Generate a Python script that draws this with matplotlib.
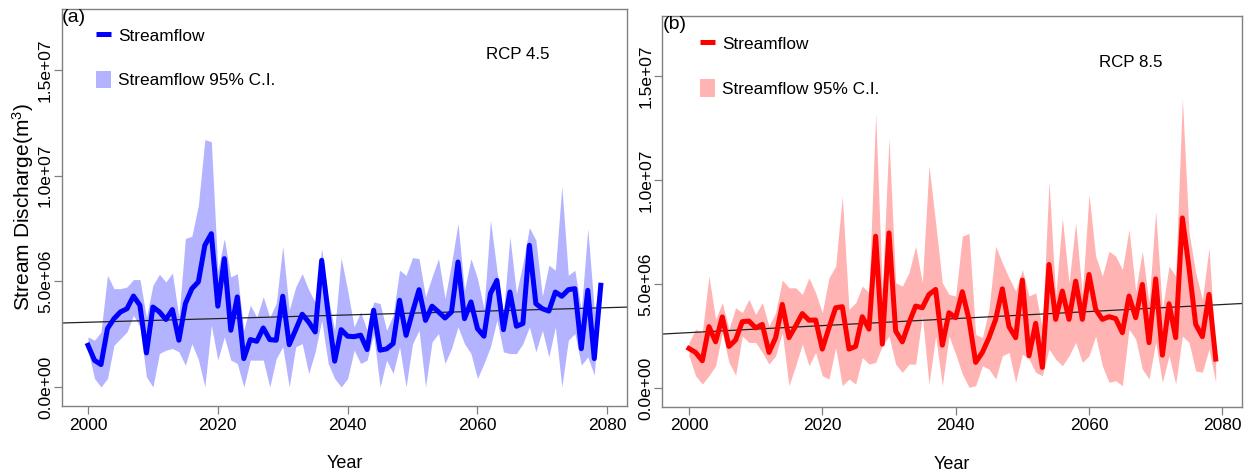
import numpy as np
import matplotlib
matplotlib.use('Agg')
import matplotlib.pyplot as plt
from matplotlib.lines import Line2D
from matplotlib.patches import Patch

plt.rcParams['font.family'] = ['Liberation Sans', 'DejaVu Sans']
plt.rcParams['mathtext.fontset'] = 'custom'
plt.rcParams['mathtext.rm'] = 'Liberation Sans'
plt.rcParams['mathtext.it'] = 'Liberation Sans:italic'

years = list(range(2000, 2080))

# RCP 4.5 streamflow (x 1e6 m3)
rcp45_flow = [1.97, 1.26, 1.06, 2.76, 3.23, 3.55, 3.70, 4.30, 3.86, 1.61,
              3.78, 3.55, 3.19, 3.66, 2.21, 3.94, 4.65, 4.97, 6.70, 7.25,
              3.82, 6.07, 2.68, 4.26, 1.34, 2.24, 2.16, 2.79, 2.24, 2.21,
              4.29, 2.00, 2.71, 3.44, 3.07, 2.60, 5.99, 3.47, 1.22, 2.71,
              2.40, 2.38, 2.45, 1.77, 3.63, 1.74, 1.80, 2.05, 4.10, 2.44,
              3.55, 4.60, 3.15, 3.82, 3.55, 3.26, 3.55, 5.91, 3.23, 4.02,
              2.76, 2.40, 4.42, 5.04, 2.71, 4.49, 2.87, 3.00, 6.70, 3.94,
              3.70, 3.59, 4.49, 4.29, 4.60, 4.65, 1.81, 4.57, 1.34, 4.81]
rcp45_upper = [2.37, 2.21, 2.60, 5.28, 4.65, 4.65, 4.73, 5.08, 5.08, 3.30,
               4.81, 5.33, 4.97, 5.39, 3.30, 7.02, 7.13, 8.59, 11.70, 11.60,
               5.50, 7.02, 5.20, 5.36, 2.68, 3.87, 3.30, 4.26, 3.30, 3.95,
               6.66, 3.63, 4.73, 5.36, 4.60, 4.00, 6.55, 4.26, 2.68, 6.10,
               4.57, 2.84, 3.55, 2.68, 4.02, 3.95, 2.68, 3.39, 5.52, 5.28,
               6.12, 6.07, 4.26, 5.21, 6.07, 4.18, 5.84, 7.73, 4.57, 6.07,
               5.13, 3.71, 7.89, 5.52, 3.47, 7.10, 4.42, 5.84, 7.54, 6.94,
               4.30, 5.76, 5.52, 9.49, 5.28, 5.52, 3.63, 7.49, 3.63, 4.90]
rcp45_lower = [1.74, 0.40, 0.00, 0.40, 1.97, 2.29, 2.60, 3.39, 2.84, 0.48,
               0.00, 1.58, 1.74, 1.82, 1.66, 1.03, 2.05, 1.30, 0.00, 2.92,
               1.27, 2.37, 1.27, 1.11, 0.00, 1.27, 1.27, 1.27, 0.00, 1.34,
               1.90, 0.00, 1.90, 2.05, 0.64, 1.66, 3.16, 1.11, 0.40, 0.00,
               0.40, 1.74, 1.11, 1.27, 2.50, 0.00, 1.27, 0.64, 1.90, 0.00,
               2.05, 2.68, 0.00, 2.13, 2.53, 1.11, 1.82, 2.84, 2.05, 1.58,
               0.40, 1.11, 1.90, 3.16, 1.66, 1.58, 1.58, 2.05, 2.84, 1.66,
               2.68, 1.42, 2.84, 0.00, 2.21, 2.53, 1.03, 1.42, 0.56, 4.73]

# RCP 8.5 streamflow (x 1e6 m3)
rcp85_flow = [1.90, 1.71, 1.31, 2.95, 2.22, 3.42, 2.00, 2.31, 3.19, 3.22,
              2.89, 3.06, 1.71, 2.42, 4.02, 2.42, 2.98, 3.58, 3.26, 3.27,
              1.87, 2.90, 3.86, 3.91, 1.87, 2.00, 3.43, 2.83, 7.30, 2.11,
              7.46, 2.74, 2.22, 3.14, 3.94, 3.86, 4.50, 4.74, 2.06, 3.62,
              3.38, 4.63, 3.30, 1.23, 1.71, 2.42, 3.30, 4.77, 2.95, 2.42,
              5.19, 1.55, 3.11, 0.99, 5.94, 3.30, 4.66, 3.30, 5.14, 3.30,
              5.46, 3.78, 3.30, 3.43, 3.34, 2.66, 4.42, 3.38, 4.98, 2.18,
              5.25, 1.58, 4.05, 2.42, 8.18, 5.78, 3.06, 2.47, 4.50, 1.39]
rcp85_upper = [2.19, 2.83, 2.67, 5.38, 3.30, 4.10, 2.83, 3.86, 3.62, 4.26,
               3.54, 4.10, 2.98, 3.62, 5.19, 4.82, 4.82, 4.50, 5.30, 4.58,
               3.62, 5.30, 5.86, 9.22, 3.78, 4.10, 4.90, 4.58, 13.21, 4.74,
               12.01, 5.06, 4.90, 5.54, 6.82, 5.06, 10.69, 7.94, 5.06, 4.50,
               4.42, 7.30, 7.43, 2.58, 2.42, 3.78, 6.82, 6.02, 5.30, 4.66,
               5.70, 4.42, 4.58, 2.83, 9.94, 4.42, 8.18, 5.06, 7.94, 4.50,
               9.30, 6.34, 5.38, 6.58, 6.34, 5.70, 7.62, 4.66, 6.58, 4.10,
               8.50, 3.78, 5.86, 5.38, 13.93, 7.48, 5.55, 4.26, 6.74, 1.60]
rcp85_lower = [1.55, 0.59, 0.19, 0.59, 1.07, 2.67, 1.23, 0.62, 2.50, 2.19,
               2.19, 1.71, 1.15, 1.55, 2.67, 0.11, 1.07, 2.11, 1.07, 1.71,
               0.59, 0.43, 1.95, 0.11, 0.43, 0.19, 1.47, 1.15, 1.23, 2.03,
               2.50, 1.15, 0.75, 1.15, 1.15, 3.46, 0.19, 2.50, 0.11, 2.50,
               1.63, 0.67, 0.03, 0.11, 1.07, 0.91, 0.43, 1.55, 1.71, 0.27,
               1.63, 1.39, 0.75, 0.59, 1.87, 1.39, 1.07, 1.55, 2.19, 1.23,
               1.55, 2.50, 1.07, 0.27, 0.35, 0.11, 2.83, 2.35, 0.91, 0.43,
               2.19, 0.27, 1.55, 0.19, 2.50, 2.19, 0.82, 0.76, 1.87, 0.27]

yticks = [0, 5e6, 1e7, 1.5e7]
ytick_labels = ['0.0e+00', '5.0e+06', '1.0e+07', '1.5e+07']
xticks = [2000, 2020, 2040, 2060, 2080]

fig = plt.figure(figsize=(12.51, 4.74), dpi=100)
ax1 = fig.add_axes([0.0496, 0.1435, 0.4514, 0.8385])
ax2 = fig.add_axes([0.5294, 0.142, 0.4637, 0.8245])

panels = [
    (ax1, rcp45_flow, rcp45_upper, rcp45_lower, 'blue', '#b3b3ff', '(a)', 'RCP 4.5', (0.807, 0.885), (0.060, 0.955)),
    (ax2, rcp85_flow, rcp85_upper, rcp85_lower, 'red', '#ffb3b3', '(b)', 'RCP 8.5', (0.808, 0.880), (0.065, 0.952)),
]

yr = np.array(years)
for ax, flow, up, lo, col, band, tag, rcp, rcp_pos, leg_pos in panels:
    flow = np.array(flow) * 1e6
    ax.fill_between(yr, np.array(lo) * 1e6, np.array(up) * 1e6, color=band, lw=0)
    # linear trend
    b, a = np.polyfit(yr, flow, 1)
    ax.axline((2000, a + b * 2000), slope=b, color='#222222', lw=0.9)
    ax.plot(yr, flow, color=col, lw=3.6, solid_joinstyle='round')

    ax.set_xlim(1996, 2083)
    ax.set_ylim(-0.9e6, 17.9e6)
    ax.set_xticks(xticks)
    ax.set_yticks(yticks)
    ax.set_yticklabels(ytick_labels, rotation=90, va='center')
    ax.tick_params(direction='out', length=5.5, width=0.9, color='#808080',
                   labelsize=12.5, pad=3)
    ax.tick_params(axis='y', pad=1)
    for s in ax.spines.values():
        s.set_color('#808080')
        s.set_linewidth(1.0)
    ax.set_xlabel('Year', fontsize=13, labelpad=16)

    ax.text(0.0, 1.0, tag, transform=ax.transAxes, fontsize=14, ha='left', va='top')
    ax.text(rcp_pos[0], rcp_pos[1], rcp, transform=ax.transAxes, fontsize=12.2,
            ha='center', va='center')

    handles = [Line2D([0], [0], color=col, lw=3.6, solid_capstyle='butt'),
               Patch(facecolor=band, edgecolor='none')]
    ax.legend(handles, ['Streamflow', 'Streamflow 95% C.I.'], loc='upper left',
              bbox_to_anchor=leg_pos, frameon=False, fontsize=12.4,
              handlelength=0.85, handleheight=1.2, handletextpad=0.45,
              labelspacing=1.55, borderaxespad=0, borderpad=0)

ax1.set_ylabel('Stream Discharge(m$^3$)', fontsize=15, labelpad=1.5)

fig.savefig('out.png', dpi=100)
